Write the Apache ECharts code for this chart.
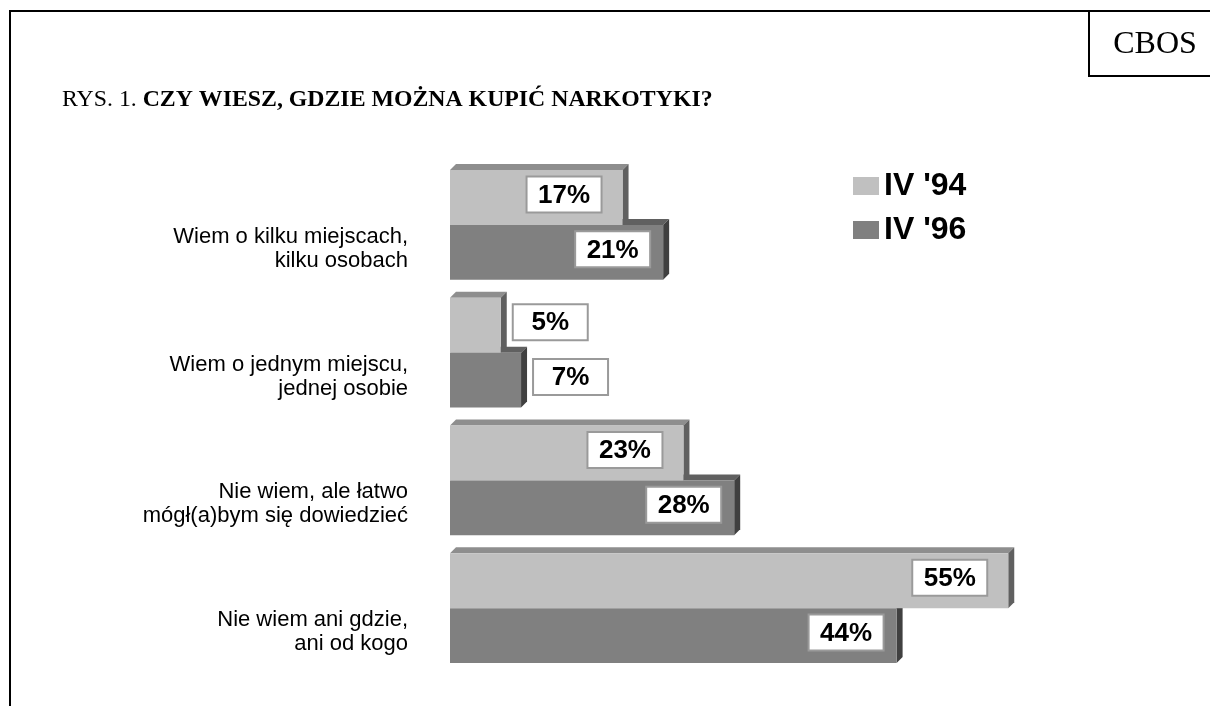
<!DOCTYPE html>
<html>
<head>
<meta charset="utf-8">
<script src="https://cdn.jsdelivr.net/npm/echarts@6/dist/echarts.min.js"></script>
<style>
html,body{margin:0;padding:0;background:#fff;}
#chart{width:1210px;height:706px;}
</style>
</head>
<body>
<div id="chart"></div>
<script>
const categories = [
  'Wiem o kilku miejscach,\nkilku osobach',
  'Wiem o jednym miejscu,\njednej osobie',
  'Nie wiem, ale łatwo\nmógł(a)bym się dowiedzieć',
  'Nie wiem ani gdzie,\nani od kogo'
];
const seriesNames = ["IV '94", "IV '96"];
const values94 = [17, 5, 23, 55];
const values96 = [21, 7, 28, 44];

const styles = [
  { front: '#c0c0c0', top: '#8e8e8e', side: '#606060', gap: 21 },
  { front: '#808080', top: '#606060', side: '#404040', gap: 13 }
];

function makeRender(si) {
  return function (params, api) {
    const idx = api.value(1);
    const val = api.value(0);
    const c = api.coord([0, idx]);
    const e = api.coord([val, idx]);
    const band = api.size([0, 1])[1];
    const h = band * 0.43;
    const d = 6;
    const x0 = c[0], x1 = e[0];
    const yc = c[1];
    const yTop = si === 0 ? yc - h : yc;
    const yBot = yTop + h;
    const st = styles[si];
    const children = [
      { type: 'polygon', shape: { points: [[x0, yTop], [x0 + d, yTop - d], [x1 + d, yTop - d], [x1, yTop]] }, style: { fill: st.top } },
      { type: 'polygon', shape: { points: [[x1, yTop], [x1 + d, yTop - d], [x1 + d, yBot - d], [x1, yBot]] }, style: { fill: st.side } },
      { type: 'rect', shape: { x: x0, y: yTop, width: x1 - x0, height: h }, style: { fill: st.front } }
    ];
    const bw = 75, bh = 36;
    let bx;
    if (val < 10) bx = x1 + 12; else bx = x1 - st.gap - bw;
    const by = (yTop + yBot) / 2 - 3 - bh / 2;
    children.push({ type: 'rect', shape: { x: bx, y: by, width: bw, height: bh }, style: { fill: '#fff', stroke: '#9a9a9a', lineWidth: 2 } });
    children.push({ type: 'text', style: { x: bx + bw / 2, y: by + bh / 2 + 1, text: val + '%', align: 'center', verticalAlign: 'middle', fill: '#000', font: 'bold 26px "Liberation Sans", Arial, sans-serif' } });
    return { type: 'group', children: children };
  };
}

const chart = echarts.init(document.getElementById('chart'));
chart.setOption({
  animation: false,
  backgroundColor: '#fff',
  title: [{
    left: 57, top: 83,
    text: '{a|RYS. 1. }{b|CZY WIESZ, GDZIE MOŻNA KUPIĆ NARKOTYKI?}',
    textStyle: {
      rich: {
        a: { fontFamily: '"Liberation Serif", "Times New Roman", serif', fontSize: 23.8, fontWeight: 'normal', color: '#000' },
        b: { fontFamily: '"Liberation Serif", "Times New Roman", serif', fontSize: 23.8, fontWeight: 'bold', color: '#000' }
      }
    }
  }, {
    left: 1150, top: 40, textAlign: 'center', textVerticalAlign: 'middle',
    text: 'CBOS',
    textStyle: { fontFamily: '"Liberation Serif", "Times New Roman", serif', fontSize: 32, fontWeight: 'normal', color: '#000' }
  }],
  graphic: [
    { type: 'line', shape: { x1: 10, y1: 11, x2: 1210, y2: 11 }, style: { stroke: '#000', lineWidth: 2 } },
    { type: 'line', shape: { x1: 10, y1: 10, x2: 10, y2: 706 }, style: { stroke: '#000', lineWidth: 2 } },
    { type: 'line', shape: { x1: 1089, y1: 10, x2: 1089, y2: 76 }, style: { stroke: '#000', lineWidth: 2 } },
    { type: 'line', shape: { x1: 1088, y1: 76, x2: 1210, y2: 76 }, style: { stroke: '#000', lineWidth: 2 } }
  ],
  legend: {
    orient: 'vertical', left: 848, top: 161, itemGap: 4,
    itemWidth: 26, itemHeight: 18, itemStyle: { borderWidth: 0 },
    data: [{ name: seriesNames[0], icon: 'rect' }, { name: seriesNames[1], icon: 'rect' }],
    textStyle: { fontFamily: '"Liberation Sans", Arial, sans-serif', fontSize: 32, fontWeight: 'bold', color: '#000', lineHeight: 40 }
  },
  grid: { left: 450, top: 161, width: 609, height: 511 },
  xAxis: { type: 'value', min: 0, max: 60, show: false, splitLine: { show: false } },
  yAxis: {
    type: 'category', data: categories, inverse: true,
    axisLine: { show: false }, axisTick: { show: false }, splitLine: { show: false },
    axisLabel: {
      margin: 42, fontSize: 22, lineHeight: 24, color: '#000', align: 'right',
      verticalAlign: 'top',
      fontFamily: '"Liberation Sans", Arial, sans-serif'
    }
  },
  series: [
    {
      name: seriesNames[0], type: 'custom', z: 3,
      itemStyle: { color: styles[0].front },
      encode: { x: 0, y: 1 },
      data: values94.map((v, i) => [v, i]),
      renderItem: makeRender(0)
    },
    {
      name: seriesNames[1], type: 'custom', z: 2,
      itemStyle: { color: styles[1].front },
      encode: { x: 0, y: 1 },
      data: values96.map((v, i) => [v, i]),
      renderItem: makeRender(1)
    }
  ]
});
</script>
</body>
</html>
